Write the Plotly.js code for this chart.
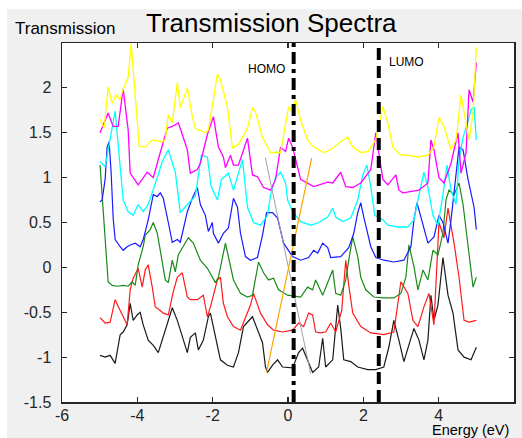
<!DOCTYPE html>
<html>
<head>
<meta charset="utf-8">
<script src="https://cdn.plot.ly/plotly-3.0.1.min.js"></script>
<style>html,body{margin:0;padding:0;background:#fff;}#chart{width:522px;height:438px;}</style>
</head>
<body>
<div id="chart"></div>
<script>
// Energy (eV), Transmission (offset) pairs
const blackPts = [[-4.99,-0.98],[-4.855,-1.00],[-4.722,-0.98],[-4.589,-1.07],[-4.456,-0.75],[-4.376,-0.72],[-4.27,-0.64],[-4.19,-0.40],[-4.11,-0.59],[-4.004,-0.53],[-3.924,-0.50],[-3.844,-0.64],[-3.711,-0.81],[-3.577,-0.87],[-3.444,-0.95],[-3.311,-0.78],[-3.178,-0.59],[-3.072,-0.45],[-2.939,-0.59],[-2.779,-0.81],[-2.673,-0.95],[-2.593,-0.78],[-2.46,-0.73],[-2.38,-0.92],[-2.247,-0.81],[-2.114,-0.55],[-2.06,-0.51],[-1.794,-1.03],[-1.608,-1.09],[-1.448,-1.11],[-1.315,-0.95],[-1.182,-0.66],[-0.943,-0.55],[-0.677,-0.84],[-0.597,-1.11],[-0.543,-1.17],[-0.41,-1.09],[-0.277,-1.03],[-0.144,-1.11],[0.122,-1.12],[0.282,-0.95],[0.388,-0.90],[0.521,-1.03],[0.654,-1.17],[0.814,-1.11],[0.921,-0.79],[1.0,-1.11],[1.187,-1.03],[1.32,-0.42],[1.40,-0.68],[1.48,-1.03],[1.666,-1.05],[1.852,-1.11],[2.118,-1.14],[2.331,-1.14],[2.544,-1.11],[2.677,-0.89],[2.81,-0.59],[2.944,-0.81],[3.077,-1.05],[3.343,-0.68],[3.476,-0.81],[3.609,-1.03],[3.715,-0.81],[3.795,-0.31],[3.875,-0.59],[3.981,-0.42],[4.114,0.11],[4.248,-0.31],[4.381,-0.51],[4.514,-0.92],[4.674,-1.00],[4.86,-1.03],[5.0,-0.89]];

const redPts = [[-4.99,-0.56],[-4.855,-0.62],[-4.722,-0.61],[-4.589,-0.36],[-4.456,-0.48],[-4.27,-0.64],[-4.19,-0.25],[-4.11,-0.12],[-3.977,-0.01],[-3.871,-0.22],[-3.791,-0.03],[-3.711,0.03],[-3.604,-0.22],[-3.524,-0.44],[-3.391,-0.48],[-3.311,-0.51],[-3.178,-0.53],[-3.045,-0.27],[-2.939,-0.11],[-2.806,-0.06],[-2.673,-0.33],[-2.593,-0.36],[-2.407,-0.36],[-2.247,-0.31],[-2.14,-0.55],[-2.06,-0.44],[-1.874,-0.14],[-1.794,-0.11],[-1.715,-0.40],[-1.608,-0.55],[-1.448,-0.66],[-1.262,-0.70],[-0.996,-0.42],[-0.916,-0.29],[-0.73,-0.51],[-0.543,-0.64],[-0.384,-0.70],[-0.144,-0.72],[0.122,-0.70],[0.282,-0.62],[0.415,-0.66],[0.548,-0.51],[0.654,-0.53],[0.734,-0.72],[0.867,-0.73],[1.0,-0.72],[1.134,-0.62],[1.267,-0.72],[1.426,-0.48],[1.533,0.08],[1.613,-0.20],[1.719,-0.51],[1.932,-0.66],[2.198,-0.73],[2.544,-0.75],[2.81,-0.72],[2.997,-0.16],[3.183,-0.29],[3.316,-0.59],[3.449,-0.66],[3.609,-0.44],[3.742,-0.29],[3.875,-0.64],[4.008,0.50],[4.141,0.33],[4.248,0.66],[4.408,0.27],[4.541,-0.11],[4.674,-0.59],[4.807,-0.61],[5.0,-0.59]];

const greenPts = [[-4.99,1.14],[-4.909,0.64],[-4.855,0.23],[-4.775,-0.16],[-4.669,-0.20],[-4.536,-0.21],[-4.376,-0.20],[-4.243,-0.21],[-4.137,-0.16],[-4.057,-0.20],[-3.977,0.03],[-3.844,0.23],[-3.791,0.36],[-3.658,0.42],[-3.577,0.50],[-3.471,0.38],[-3.391,0.19],[-3.258,-0.14],[-3.178,-0.17],[-3.072,0.08],[-2.992,-0.05],[-2.912,0.14],[-2.646,0.33],[-2.513,0.27],[-2.327,0.08],[-2.14,-0.01],[-1.928,-0.17],[-1.848,-0.11],[-1.661,0.27],[-1.582,0.12],[-1.448,-0.14],[-1.262,-0.29],[-1.076,-0.33],[-0.943,-0.31],[-0.783,0.06],[-0.65,-0.06],[-0.517,-0.14],[-0.384,-0.12],[-0.25,-0.25],[-0.011,-0.31],[0.335,-0.33],[0.521,-0.22],[0.654,-0.25],[0.734,-0.14],[0.921,-0.31],[1.187,-0.03],[1.267,-0.29],[1.40,-0.31],[1.533,-0.14],[1.613,0.08],[1.719,0.34],[1.852,0.12],[1.932,-0.11],[2.065,-0.25],[2.278,-0.33],[2.544,-0.34],[2.81,-0.34],[2.997,-0.29],[3.13,-0.11],[3.21,0.25],[3.343,0.01],[3.449,-0.25],[3.582,-0.03],[3.715,-0.14],[3.848,0.19],[3.981,0.14],[4.114,0.38],[4.194,0.75],[4.274,0.86],[4.408,0.81],[4.541,0.94],[4.647,0.70],[4.78,0.25],[4.913,-0.22],[5.0,-0.11]];

const bluePts = [[-4.99,0.73],[-4.935,0.75],[-4.855,0.98],[-4.802,1.34],[-4.749,1.40],[-4.696,1.06],[-4.642,0.55],[-4.589,0.31],[-4.456,0.23],[-4.376,0.19],[-4.27,0.23],[-4.19,0.25],[-4.057,0.27],[-3.924,0.23],[-3.844,0.31],[-3.711,0.53],[-3.577,0.81],[-3.471,0.79],[-3.391,0.83],[-3.311,0.77],[-3.178,0.50],[-3.072,0.28],[-2.939,0.31],[-2.859,0.28],[-2.673,0.62],[-2.54,0.77],[-2.407,0.89],[-2.327,0.70],[-2.194,0.58],[-2.114,0.40],[-2.008,0.50],[-1.981,0.38],[-1.848,0.27],[-1.715,0.38],[-1.582,0.44],[-1.448,0.77],[-1.342,0.67],[-1.262,0.38],[-1.129,0.12],[-0.996,0.08],[-0.81,0.11],[-0.677,0.36],[-0.57,0.61],[-0.41,0.61],[-0.277,0.55],[-0.117,0.27],[0.122,0.12],[0.335,0.08],[0.548,0.11],[0.681,0.19],[0.788,0.16],[0.921,0.27],[1.054,0.22],[1.134,0.11],[1.40,0.12],[1.613,0.22],[1.746,0.38],[1.852,0.61],[1.932,0.72],[2.012,0.56],[2.198,0.23],[2.331,0.11],[2.544,0.08],[2.81,0.06],[3.077,0.08],[3.263,0.23],[3.343,0.53],[3.423,0.72],[3.529,0.56],[3.715,0.27],[3.875,0.34],[4.008,0.58],[4.114,0.50],[4.248,0.27],[4.328,0.53],[4.408,0.81],[4.461,1.01],[4.541,1.34],[4.647,1.31],[4.78,0.98],[4.94,0.67],[5.0,0.42]];

const cyanPts = [[-4.99,1.18],[-4.855,1.12],[-4.589,1.74],[-4.376,0.75],[-4.243,0.62],[-4.11,0.58],[-3.977,0.70],[-3.844,0.62],[-3.711,0.70],[-3.604,0.83],[-3.471,1.00],[-3.338,1.18],[-3.178,1.31],[-2.992,1.06],[-2.859,0.61],[-2.673,0.70],[-2.46,0.79],[-2.30,1.25],[-2.14,1.23],[-2.04,0.90],[-1.874,0.75],[-1.768,0.98],[-1.582,1.05],[-1.448,0.86],[-1.315,1.05],[-1.209,1.20],[-1.076,0.67],[-0.916,0.50],[-0.73,0.47],[-0.543,0.58],[-0.463,0.81],[-0.33,1.00],[-0.197,1.06],[-0.064,0.94],[-0.011,0.75],[0.122,0.62],[0.335,0.51],[0.601,0.47],[0.814,0.50],[1.054,0.56],[1.187,0.66],[1.267,0.56],[1.453,0.51],[1.666,0.55],[1.852,0.75],[1.985,1.03],[2.092,1.14],[2.198,0.90],[2.305,0.58],[2.518,0.53],[2.651,0.47],[2.917,0.45],[3.183,0.45],[3.343,0.53],[3.449,0.75],[3.609,1.06],[3.715,0.89],[3.848,0.58],[3.981,0.47],[4.114,0.81],[4.221,1.14],[4.328,0.86],[4.461,0.70],[4.541,1.20],[4.647,1.45],[4.754,1.59],[4.86,1.76],[4.94,1.78],[5.0,1.42]];

const magentaPts = [[-4.99,1.50],[-4.775,1.72],[-4.642,1.57],[-4.509,1.57],[-4.376,1.99],[-4.243,1.53],[-4.19,1.05],[-3.977,0.92],[-3.737,1.06],[-3.577,1.00],[-3.391,1.28],[-3.205,1.55],[-3.072,1.57],[-2.912,1.61],[-2.806,1.48],[-2.673,1.31],[-2.593,1.05],[-2.407,1.09],[-2.327,1.16],[-2.14,1.48],[-1.98,1.68],[-1.848,1.34],[-1.715,1.23],[-1.661,1.11],[-1.528,1.25],[-1.448,1.14],[-1.315,1.14],[-1.182,1.31],[-1.076,1.44],[-0.943,1.03],[-0.81,1.01],[-0.65,0.89],[-0.463,0.86],[-0.33,0.98],[-0.197,1.34],[-0.064,1.29],[0.016,1.44],[0.122,1.34],[0.335,0.98],[0.681,0.90],[1.054,0.95],[1.187,0.94],[1.40,1.06],[1.533,0.90],[1.719,0.89],[1.932,0.94],[2.198,1.09],[2.331,1.50],[2.518,0.98],[2.651,0.92],[2.864,1.03],[2.944,0.86],[3.05,0.83],[3.476,0.86],[3.715,0.94],[3.795,1.42],[3.875,1.31],[4.008,1.00],[4.141,0.94],[4.328,1.16],[4.514,1.50],[4.594,1.05],[4.727,1.28],[4.807,1.98],[4.913,1.84],[5.0,2.28]];

const yellowPts = [[-4.99,1.65],[-4.88,1.55],[-4.775,2.01],[-4.67,1.83],[-4.56,1.92],[-4.46,1.87],[-4.38,1.98],[-4.243,2.12],[-4.163,2.49],[-3.95,1.35],[-3.79,1.34],[-3.604,1.42],[-3.338,1.40],[-3.258,1.42],[-3.178,1.70],[-3.072,1.61],[-2.939,2.06],[-2.859,1.78],[-2.673,2.00],[-2.54,1.68],[-2.46,1.55],[-2.194,1.50],[-2.114,1.53],[-1.874,2.15],[-1.794,2.09],[-1.608,1.79],[-1.475,1.33],[-1.315,1.37],[-1.076,1.55],[-0.943,1.78],[-0.863,1.73],[-0.677,1.45],[-0.463,1.28],[-0.197,1.28],[0.016,1.79],[0.122,1.72],[0.202,1.87],[0.335,1.64],[0.521,1.42],[0.681,1.34],[0.947,1.28],[1.134,1.31],[1.40,1.40],[1.586,1.45],[1.719,1.34],[1.932,1.28],[2.118,1.29],[2.331,1.42],[2.518,1.79],[2.651,1.61],[2.784,1.34],[2.997,1.25],[3.183,1.25],[3.449,1.23],[3.715,1.25],[3.875,1.34],[4.008,1.67],[4.141,1.57],[4.328,1.31],[4.461,1.42],[4.594,1.92],[4.727,1.61],[4.807,1.42],[4.913,1.72],[5.0,2.45]];

const grayPts = [[-0.60,1.22],[0.60,-1.18]];
const orangePts = [[-0.57,-1.17],[0.63,1.22]];

const homoE = 0.15;
const lumoE = 2.41;
const yRange = [-1.5, 2.5];
const xRange = [-6, 6];

const xTickVals = [-6, -4, -2, 0, 2, 4];
const xTickText = ['-6', '-4', '-2', '0', '2', '4'];
const yTickVals = [-1.5, -1, -0.5, 0, 0.5, 1, 1.5, 2];
const yTickText = ['-1.5', '-1', '-0.5', '0', '0.5', '1', '1.5', '2'];

function series(pts, color, width, extra) {
  return Object.assign({
    type: 'scatter', mode: 'lines',
    x: pts.map(p => p[0]), y: pts.map(p => p[1]),
    line: {color: color, width: width},
    hoverinfo: 'skip', showlegend: false
  }, extra || {});
}

const traces = [
  series(blackPts, '#1a1a1a', 1.2),
  series(redPts, '#ff1a1a', 1.2),
  series(greenPts, '#1a8a1a', 1.2),
  series(bluePts, '#1a1aff', 1.2),
  series(cyanPts, '#00ffff', 1.3),
  series(magentaPts, '#ff00ff', 1.3),
  series(yellowPts, '#ffff00', 1.3),
  series(grayPts, '#a0a0a0', 1),
  series(orangePts, '#ffa500', 1.2),
  series([[homoE, yRange[0]], [homoE, yRange[1]]], '#000000', 4, {line: {color: '#000', width: 4, dash: '12px,5px,4px,5px'}}),
  series([[lumoE, yRange[0]], [lumoE, yRange[1]]], '#000000', 4, {line: {color: '#000', width: 4, dash: '12px,6px'}})
];

const tickFont = {family: 'Liberation Sans, Arial, sans-serif', size: 16, color: '#262626'};
const layout = {
  width: 522, height: 438,
  margin: {l: 62, r: 8, t: 43, b: 36},
  paper_bgcolor: '#f0f0f0',
  plot_bgcolor: '#ffffff',
  showlegend: false,
  title: {text: 'Transmission Spectra', font: {family: 'Liberation Sans, Arial, sans-serif', size: 26, color: '#000'},
          xref: 'paper', x: 0.463, xanchor: 'center', yref: 'container', y: 0.948, yanchor: 'middle'},
  xaxis: {range: xRange, tickvals: xTickVals, ticktext: xTickText, ticks: 'inside', ticklen: 5, tickwidth: 1.2,
          tickcolor: '#262626', showline: true, linecolor: '#262626', linewidth: 1.5, mirror: 'ticks',
          showgrid: false, zeroline: false, tickfont: tickFont, ticklabelstandoff: -2, fixedrange: true},
  yaxis: {range: yRange, tickvals: yTickVals, ticktext: yTickText, ticks: 'inside', ticklen: 5, tickwidth: 1.2,
          tickcolor: '#262626', showline: true, linecolor: '#262626', linewidth: 1.5, mirror: 'ticks',
          showgrid: false, zeroline: false, tickfont: tickFont, ticklabelstandoff: 6, fixedrange: true},
  shapes: [
    {type: 'rect', xref: 'paper', yref: 'paper', x0: -0.2, x1: 1.02, y0: 1.094, y1: 1.25, fillcolor: '#ffffff', line: {width: 0}, layer: 'below'},
    {type: 'rect', xref: 'paper', yref: 'paper', x0: -0.2, x1: -0.1218, y0: -0.2, y1: 1.25, fillcolor: '#ffffff', line: {width: 0}, layer: 'below'}
  ],
  annotations: [
    {text: 'Transmission', xref: 'paper', yref: 'paper', x: -0.109, y: 1.041, xanchor: 'left', yanchor: 'middle',
     showarrow: false, font: {family: 'Liberation Sans, Arial, sans-serif', size: 17, color: '#000'}},
    {text: 'Energy (eV)', xref: 'paper', yref: 'paper', x: 0.991, y: -0.0785, xanchor: 'right', yanchor: 'middle',
     showarrow: false, borderpad: 0, font: {family: 'Liberation Sans, Arial, sans-serif', size: 14.5, color: '#000'}},
    {text: 'HOMO', xref: 'x', yref: 'y', x: -0.57, y: 2.21, xanchor: 'center', yanchor: 'middle',
     showarrow: false, font: {family: 'Liberation Sans, Arial, sans-serif', size: 12, color: '#000'}},
    {text: 'LUMO', xref: 'x', yref: 'y', x: 3.14, y: 2.29, xanchor: 'center', yanchor: 'middle',
     showarrow: false, font: {family: 'Liberation Sans, Arial, sans-serif', size: 12, color: '#000'}}
  ]
};

Plotly.newPlot('chart', traces, layout, {displayModeBar: false, staticPlot: true});
</script>
</body>
</html>
